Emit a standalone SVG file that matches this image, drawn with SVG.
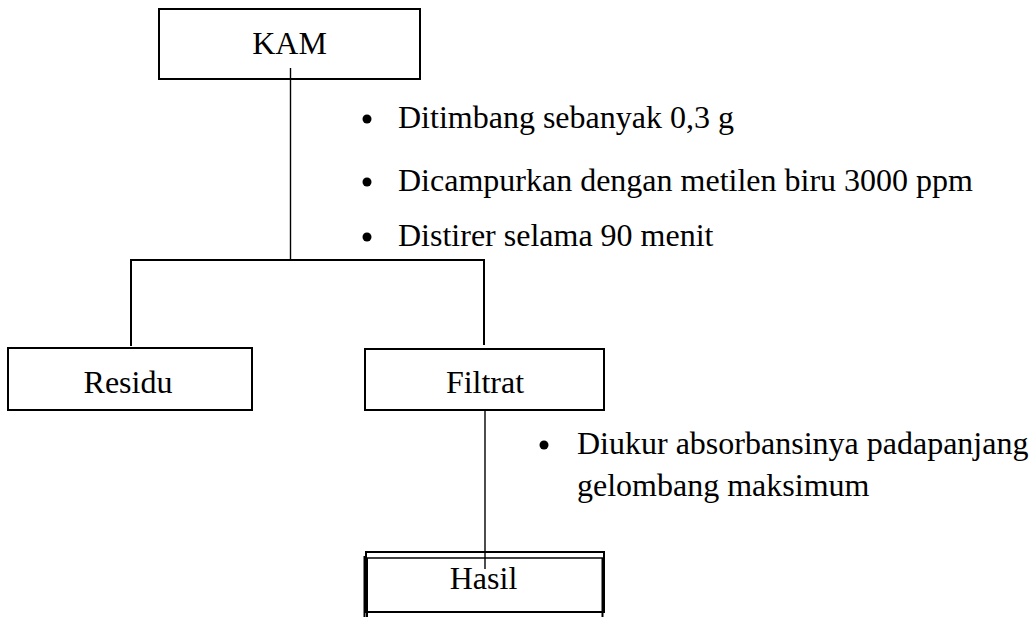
<svg xmlns="http://www.w3.org/2000/svg" width="1030" height="617" viewBox="0 0 1030 617">
<style>
.box{fill:#fff;stroke:#000;stroke-width:2}
.t{font-family:'Liberation Serif','Times New Roman',Times,'DejaVu Serif',serif;font-size:32px;fill:#000}
.c{text-anchor:middle}
.ln{stroke:#000;stroke-width:1.4;fill:none}
.lt{stroke:#000;stroke-width:2;fill:none}
</style>
<rect width="1030" height="617" fill="#fff"/>
<g id="KAM">
<rect class="box" x="159" y="9" width="261" height="70"/>
<text class="t c" x="289.5" y="54" font-family="Liberation Serif, serif">KAM</text>
</g>
<g id="Residu">
<rect class="box" x="8" y="348" width="244" height="62"/>
<text class="t c" x="128" y="393" font-family="Liberation Serif, serif">Residu</text>
</g>
<g id="Filtrat">
<rect class="box" x="365" y="349" width="239" height="61"/>
<text class="t c" x="485" y="393" font-family="Liberation Serif, serif">Filtrat</text>
</g>
<g id="Hasil">
<rect class="box" x="366" y="552" width="238" height="60" stroke-width="1.5"/>
<line class="ln" x1="366" y1="558" x2="604" y2="558" stroke-width="2"/>
<line class="lt" x1="364.5" y1="556" x2="364.5" y2="617"/>
<line class="lt" x1="367" y1="558" x2="367" y2="617"/>
<line class="lt" x1="602.5" y1="558" x2="602.5" y2="617"/>
<line class="lt" x1="365" y1="612" x2="604" y2="612"/>
<text class="t c" x="483.5" y="589" font-family="Liberation Serif, serif">Hasil</text>
</g>
<g id="connectors">
<line class="ln" x1="290.5" y1="68" x2="290.5" y2="260"/>
<polyline class="lt" points="131,346 131,260 484,260 484,345"/>
<line class="ln" x1="485" y1="410" x2="485" y2="569"/>
</g>
<g id="notes" font-family="Liberation Serif, serif">
<circle cx="367" cy="119" r="4.5"/>
<text class="t" x="398" y="128">Ditimbang sebanyak 0,3 g</text>
<circle cx="367" cy="182" r="4.5"/>
<text class="t" x="398" y="191">Dicampurkan dengan metilen biru 3000 ppm</text>
<circle cx="367" cy="237" r="4.5"/>
<text class="t" x="398" y="246">Distirer selama 90 menit</text>
<circle cx="544" cy="445" r="4.5"/>
<text class="t" x="577" y="454">Diukur absorbansinya padapanjang</text>
<text class="t" x="577" y="496">gelombang maksimum</text>
</g>
</svg>
